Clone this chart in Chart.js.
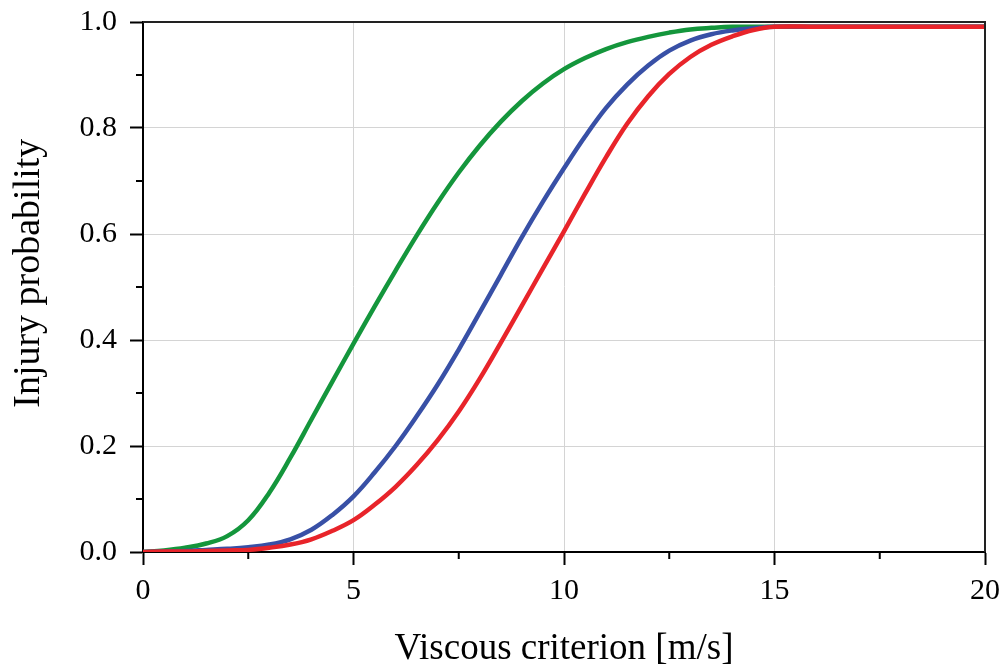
<!DOCTYPE html>
<html>
<head>
<meta charset="utf-8">
<script src="https://cdn.jsdelivr.net/npm/chart.js@4"></script>
<style>
    html, body { margin: 0; padding: 0; background: #fff; }
    #wrap { width: 1003px; height: 669px; }
</style>
</head>
<body>
<div id="wrap"><canvas id="injuryChart" width="1003" height="669"></canvas></div>
<script>
// --- values ---
const viscousX = [0, 0.5, 1, 1.5, 2, 2.5, 3, 3.5, 4, 4.5, 5, 5.5, 6, 6.5, 7, 7.5, 8, 8.5, 9, 9.5,
    10, 10.5, 11, 11.5, 12, 12.5, 13, 13.5, 14, 14.5, 15, 16, 17, 18, 19, 20];

const greenCurve = [0, 0.003, 0.008, 0.016, 0.03, 0.06, 0.112, 0.178, 0.25, 0.322, 0.393, 0.463, 0.531, 0.597, 0.659, 0.716, 0.767, 0.812, 0.851, 0.884,
    0.911, 0.932, 0.949, 0.962, 0.972, 0.98, 0.986, 0.989, 0.991, 0.991, 0.991, 0.991, 0.991, 0.991, 0.991, 0.991];

const blueCurve = [0, 0.001, 0.002, 0.004, 0.006, 0.009, 0.014, 0.024, 0.042, 0.07, 0.105, 0.15, 0.2, 0.256, 0.316, 0.382, 0.452, 0.523, 0.594, 0.661,
    0.724, 0.784, 0.838, 0.882, 0.918, 0.946, 0.965, 0.977, 0.984, 0.988, 0.991, 0.991, 0.991, 0.991, 0.991, 0.991];

const redCurve = [0, 0.001, 0.001, 0.002, 0.003, 0.004, 0.008, 0.014, 0.024, 0.04, 0.06, 0.089, 0.123, 0.164, 0.211, 0.265, 0.327, 0.395, 0.465, 0.535,
    0.605, 0.676, 0.745, 0.808, 0.86, 0.902, 0.934, 0.957, 0.973, 0.985, 0.991, 0.991, 0.991, 0.991, 0.991, 0.991];

const xMajorTicks = [0, 5, 10, 15, 20];
const xMinorTicks = [2.5, 7.5, 12.5, 17.5];
const yMajorTicks = [0, 0.2, 0.4, 0.6, 0.8, 1.0];
const yMinorTicks = [0.1, 0.3, 0.5, 0.7, 0.9];

const X_TITLE = 'Viscous criterion [m/s]';
const Y_TITLE = 'Injury probability';

const SERIF = "'Liberation Serif', 'Times New Roman', serif";
const GRID_GREY = '#d4d4d4';

const toPoints = (ys) => viscousX.map((x, i) => ({ x: x, y: ys[i] }));

// frame on top/right, the short minor ticks (Chart.js only has one tick length)
// and the y title, which sits a bit above the middle of the axis in the original
const frameAndMinorTicks = {
    id: 'frameAndMinorTicks',
    afterDraw(chart) {
        const { ctx, chartArea: a, scales } = chart;
        ctx.save();
        ctx.lineWidth = 2;
        ctx.strokeStyle = '#222';
        ctx.beginPath();
        ctx.moveTo(a.left, a.top);
        ctx.lineTo(a.right, a.top);
        ctx.lineTo(a.right, a.bottom);
        ctx.stroke();

        ctx.strokeStyle = '#000';
        ctx.beginPath();
        xMinorTicks.forEach(v => {
            const px = scales.x.getPixelForValue(v);
            ctx.moveTo(px, a.bottom);
            ctx.lineTo(px, a.bottom + 7);
        });
        yMinorTicks.forEach(v => {
            const py = scales.y.getPixelForValue(v);
            ctx.moveTo(a.left, py);
            ctx.lineTo(a.left - 7, py);
        });
        ctx.stroke();

        ctx.translate(29, scales.y.getPixelForValue(0.526));
        ctx.rotate(-Math.PI / 2);
        ctx.fillStyle = '#000';
        ctx.font = '38px ' + SERIF;
        ctx.textAlign = 'center';
        ctx.textBaseline = 'middle';
        ctx.fillText(Y_TITLE, 0, 0);
        ctx.restore();
    }
};

// keep the plot box where the original has it, ignore label overflow padding
function pinScale(scale, size) {
    if (scale.isHorizontal()) scale.height = size; else scale.width = size;
    scale.paddingTop = 0;
    scale.paddingBottom = 0;
    scale.paddingLeft = 0;
    scale.paddingRight = 0;
}

function buildChart() {
    const ctx = document.getElementById('injuryChart').getContext('2d');

    const line = (data, color) => ({
        data: toPoints(data),
        borderColor: color,
        borderWidth: 4.5,
        pointRadius: 0,
        fill: false,
        tension: 0.4
    });

    new Chart(ctx, {
        type: 'line',
        data: {
            datasets: [
                line(redCurve, '#e8242a'),
                line(blueCurve, '#3850a6'),
                line(greenCurve, '#14963c')
            ]
        },
        options: {
            responsive: false,
            animation: false,
            layout: { padding: { top: 22, right: 18, left: 0, bottom: 0 } },
            plugins: { legend: { display: false }, tooltip: { enabled: false } },
            scales: {
                x: {
                    type: 'linear',
                    min: 0,
                    max: 20,
                    afterBuildTicks: (scale) => { scale.ticks = xMajorTicks.map(v => ({ value: v })); },
                    afterFit: (scale) => pinScale(scale, 117),
                    border: { display: true, color: '#000', width: 2 },
                    grid: {
                        color: GRID_GREY,
                        lineWidth: 1,
                        tickColor: '#000',
                        tickWidth: 2,
                        tickLength: 13
                    },
                    ticks: {
                        color: '#000',
                        padding: 8,
                        maxRotation: 0,
                        font: { family: SERIF, size: 30 },
                        callback: (v) => String(v)
                    },
                    title: {
                        display: true,
                        text: X_TITLE,
                        color: '#000',
                        font: { family: SERIF, size: 37 },
                        padding: { top: 0, bottom: -2 }
                    }
                },
                y: {
                    type: 'linear',
                    min: 0,
                    max: 1,
                    afterBuildTicks: (scale) => { scale.ticks = yMajorTicks.map(v => ({ value: v })); },
                    afterFit: (scale) => pinScale(scale, 143),
                    border: { display: true, color: '#000', width: 2 },
                    grid: {
                        color: GRID_GREY,
                        lineWidth: 1,
                        tickColor: '#000',
                        tickWidth: 2,
                        tickLength: 13
                    },
                    ticks: {
                        color: '#000',
                        padding: 13,
                        font: { family: SERIF, size: 30 },
                        callback: (v) => Number(v).toFixed(1)
                    },
                    title: { display: false }
                }
            }
        },
        plugins: [frameAndMinorTicks]
    });
}

document.addEventListener('DOMContentLoaded', buildChart);
</script>
</body>
</html>
